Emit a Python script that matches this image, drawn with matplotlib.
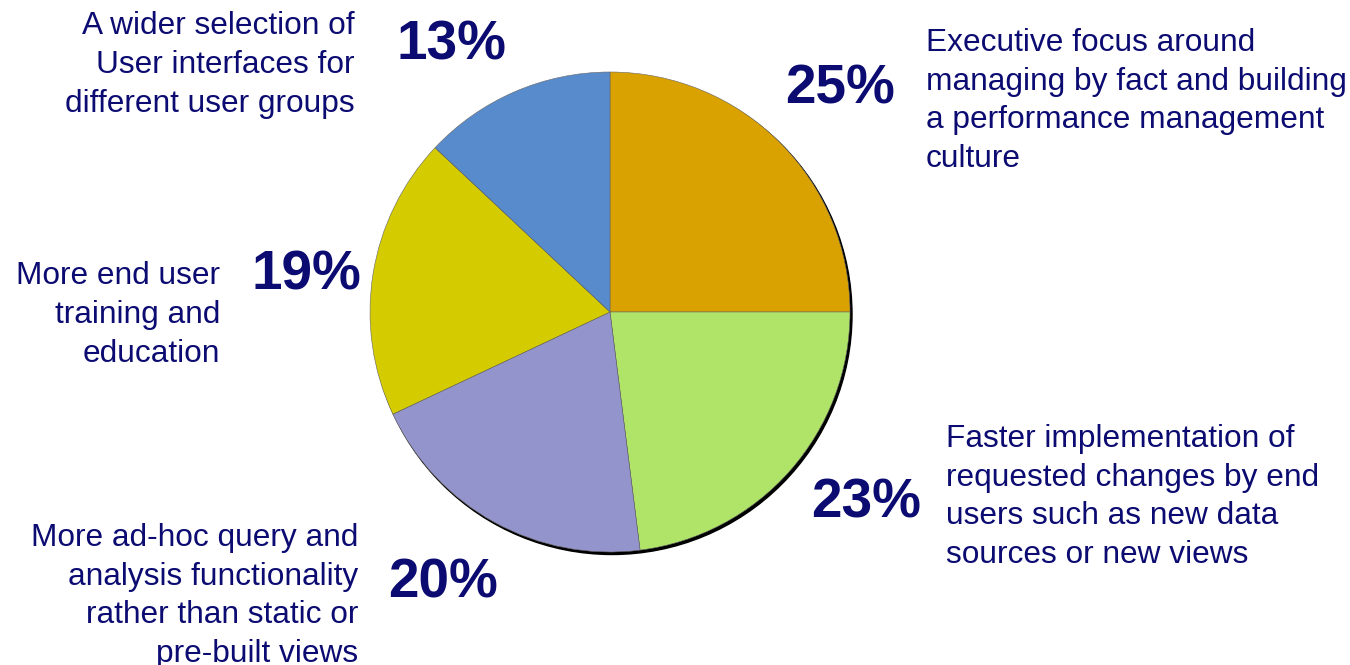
import matplotlib.pyplot as plt
from matplotlib.patches import Circle

shares = [25, 23, 20, 19, 13]
pct_labels = ["25%", "23%", "20%", "19%", "13%"]
descriptions = [
    "Executive focus around\nmanaging by fact and building\na performance management\nculture",
    "Faster implementation of\nrequested changes by end\nusers such as new data\nsources or new views",
    "More ad-hoc query and\nanalysis functionality\nrather than static or\npre-built views",
    "More end user\ntraining and\neducation",
    "A wider selection of\nUser interfaces for\ndifferent user groups",
]
colors = ["#DAA200", "#B0E468", "#9494CC", "#D4CC00", "#588BCB"]
navy = "#0B0B72"

plt.rcParams['font.family'] = ['Liberation Sans', 'DejaVu Sans']

fig = plt.figure(figsize=(13.5, 6.65), dpi=100)
ax = fig.add_axes([0, 0, 1, 1])

cx, cy, r = 610, 353, 240

# dark drop shadow under the pie
ax.add_patch(Circle((cx + 2, cy - 2.5), r, color='black', zorder=1))

wedges, _ = ax.pie(shares, colors=colors, startangle=90, counterclock=False,
                   center=(cx, cy), radius=r, frame=True,
                   wedgeprops=dict(edgecolor='#666666', linewidth=0.4))
for w in wedges:
    w.set_zorder(2)
ax.set_xlim(0, 1350)
ax.set_ylim(0, 665)
ax.set_aspect('equal')
ax.axis('off')

# percentage labels (x, y) and description placement
pct_pos = [(840, 575), (866, 162), (443, 82), (306, 390), (451, 620)]
desc_pos = [(926, 564, 'left'), (946, 168, 'left'), (358, 69, 'right'),
            (220, 350, 'right'), (355, 600, 'right')]

for lab, (px, py) in zip(pct_labels, pct_pos):
    ax.text(px, py, lab, ha='center', va='center', fontsize=39.5,
            fontweight='bold', color=navy, zorder=3)

for txt, (dx, dy, al) in zip(descriptions, desc_pos):
    ax.text(dx, dy, txt, ha=al, va='center', fontsize=22.8, color=navy,
            linespacing=1.37, zorder=3)

fig.savefig("out.png", dpi=100)
